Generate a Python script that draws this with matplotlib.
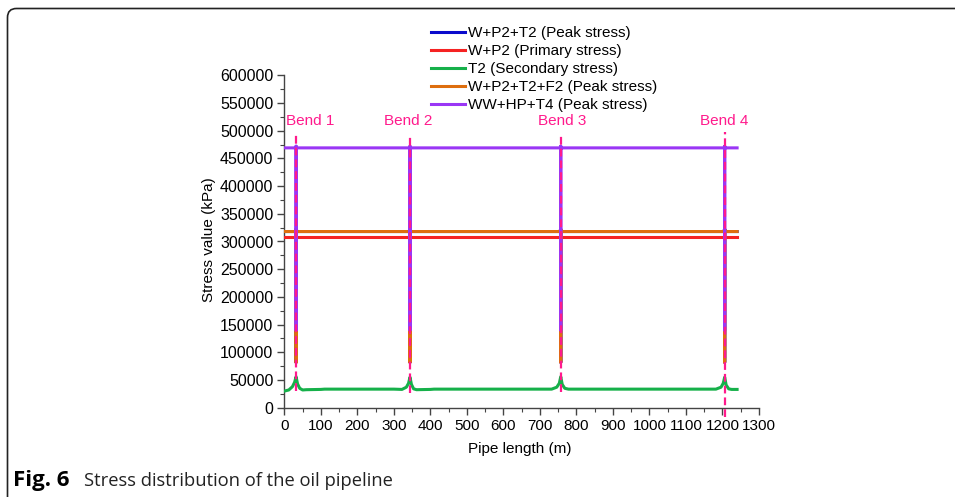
import matplotlib
matplotlib.use("Agg")
import matplotlib.pyplot as plt
from matplotlib.patches import FancyBboxPatch
from matplotlib.transforms import IdentityTransform
from matplotlib.ticker import MultipleLocator

plt.rcParams['font.family'] = ['Liberation Sans', 'DejaVu Sans']

# ---------------- data ----------------
bend_names = ["Bend 1", "Bend 2", "Bend 3", "Bend 4"]
bend_x = [32, 344, 757, 1206]
bend_label_x = [70, 338, 760, 1206]
bend_dash_top = [498000, 494000, 496000, 498000]
bend_dash_bottom = [30000, 26000, 28000, -16000]

series_labels = ["W+P2+T2 (Peak stress)", "W+P2 (Primary stress)", "T2 (Secondary stress)",
                 "W+P2+T2+F2 (Peak stress)", "WW+HP+T4 (Peak stress)"]

spike_x = [0, 29, 32, 32, 32, 35, 341, 344, 344, 344, 347, 754, 757, 757, 757, 760,
           1203, 1206, 1206, 1206, 1209, 1240]

peak_wpt_y = [318000, 318000, 322000, 82000, 322000, 318000,
              318000, 322000, 82000, 322000, 318000,
              318000, 322000, 82000, 322000, 318000,
              318000, 322000, 82000, 322000, 318000, 318000]

primary_x = [0, 1240]
primary_y = [309000, 309000]

secondary_x = [0, 12, 22, 28, 32, 36, 42, 50, 60, 100, 110, 300, 322, 334, 340, 344, 348, 354, 362,
               400, 410, 700, 732, 746, 753, 757, 761, 768, 778, 800, 1150, 1182, 1196, 1202, 1206,
               1210, 1217, 1225, 1240]
secondary_y = [30000, 32000, 38000, 46000, 56000, 43000, 35000, 32000, 32500, 33000, 33500, 33500,
               33000, 37000, 44000, 55000, 42000, 34000, 32500, 33000, 33500, 33500, 33500, 37000,
               44000, 56000, 42000, 35000, 33500, 33500, 33500, 33500, 37000, 44000, 55000, 41000,
               34000, 33000, 33000]

peak_wptf_y = [318000, 318000, 322000, 82000, 322000, 318000,
               318000, 322000, 82000, 322000, 318000,
               318000, 322000, 82000, 322000, 318000,
               318000, 322000, 82000, 322000, 318000, 318000]

peak_wwhp_y = [469000, 469000, 472000, 140000, 472000, 469000,
               469000, 472000, 140000, 472000, 469000,
               469000, 472000, 140000, 472000, 469000,
               469000, 472000, 140000, 472000, 469000, 469000]

x_ticks = list(range(0, 1301, 100))
y_ticks = list(range(0, 600001, 50000))

colors = ["#0A0ACC", "#F52222", "#16B04A", "#DE6E0E", "#9A36F5"]
bend_color = "#FF1A8C"

# ---------------- figure ----------------
W, H = 955, 497
fig = plt.figure(figsize=(W / 100, H / 100), dpi=100)
fig.patch.set_facecolor("white")

x0, x1 = 284.4, 759.0
y0, y1 = 407.7, 75.3
ax = fig.add_axes([x0 / W, 1 - y0 / H, (x1 - x0) / W, (y0 - y1) / H])

lw = 2.2
ax.plot(spike_x, peak_wpt_y, color=colors[0], lw=lw, label=series_labels[0], zorder=2)
ax.plot(primary_x, primary_y, color=colors[1], lw=lw, label=series_labels[1], zorder=3)
ax.plot(secondary_x, secondary_y, color=colors[2], lw=lw, label=series_labels[2], zorder=3)
ax.plot(spike_x, peak_wptf_y, color=colors[3], lw=lw, label=series_labels[3], zorder=4)
ax.plot(spike_x, peak_wwhp_y, color=colors[4], lw=lw, label=series_labels[4], zorder=5)

for bx, lx, top, bot, name in zip(bend_x, bend_label_x, bend_dash_top, bend_dash_bottom, bend_names):
    ax.plot([bx, bx], [bot, top], color=bend_color, lw=1.6, dashes=(3.5, 1.8),
            zorder=6, clip_on=False)
    ax.text(lx, 517000, name, color=bend_color, fontsize=11, ha="center", va="center")

ax.set_xlim(0, 1300)
ax.set_ylim(0, 600000)
ax.set_xticks(x_ticks)
ax.set_yticks(y_ticks)
ax.set_xticklabels([str(v) for v in x_ticks])
ax.set_yticklabels([str(v) for v in y_ticks])
ax.xaxis.set_minor_locator(MultipleLocator(50))
ax.yaxis.set_minor_locator(MultipleLocator(25000))
ax.tick_params(which="major", direction="out", length=5, width=1, colors="#444444",
               labelcolor="black", labelsize=11, pad=3)
ax.tick_params(axis="y", which="major", labelsize=11.5)
ax.tick_params(which="minor", direction="out", length=3, width=0.8, colors="#444444")
for s in ["top", "right"]:
    ax.spines[s].set_visible(False)
for s in ["left", "bottom"]:
    ax.spines[s].set_color("#444444")
    ax.spines[s].set_linewidth(1)

fig.text(520 / W, 1 - 449 / H, "Pipe length (m)", fontsize=11, ha="center", va="center")
fig.text(209 / W, 1 - 240 / H, "Stress value (kPa)", fontsize=11, ha="center", va="center",
         rotation=90)

fig.legend(loc="upper left", bbox_to_anchor=(431 / W, 1 - 26 / H), frameon=False,
           fontsize=11, borderpad=0, borderaxespad=0, handlelength=2.2, handletextpad=0.2,
           labelspacing=0.27)

# caption
fig.text(13 / W, 1 - 486 / H, "Fig. 6", fontsize=16, fontweight="bold",
         family=["Open Sans", "DejaVu Sans"], ha="left", va="baseline")
fig.text(84 / W, 1 - 486 / H, "Stress distribution of the oil pipeline", fontsize=13.2,
         family=["Open Sans", "DejaVu Sans"], ha="left", va="baseline", color="#222222")

# card border
card = FancyBboxPatch((7.5, -60), 1100, H - 8.5 + 60, boxstyle="round,pad=0,rounding_size=9",
                      transform=IdentityTransform(), facecolor="none", edgecolor="#222222",
                      linewidth=1.2)
fig.add_artist(card)

fig.savefig("out.png", dpi=100)
